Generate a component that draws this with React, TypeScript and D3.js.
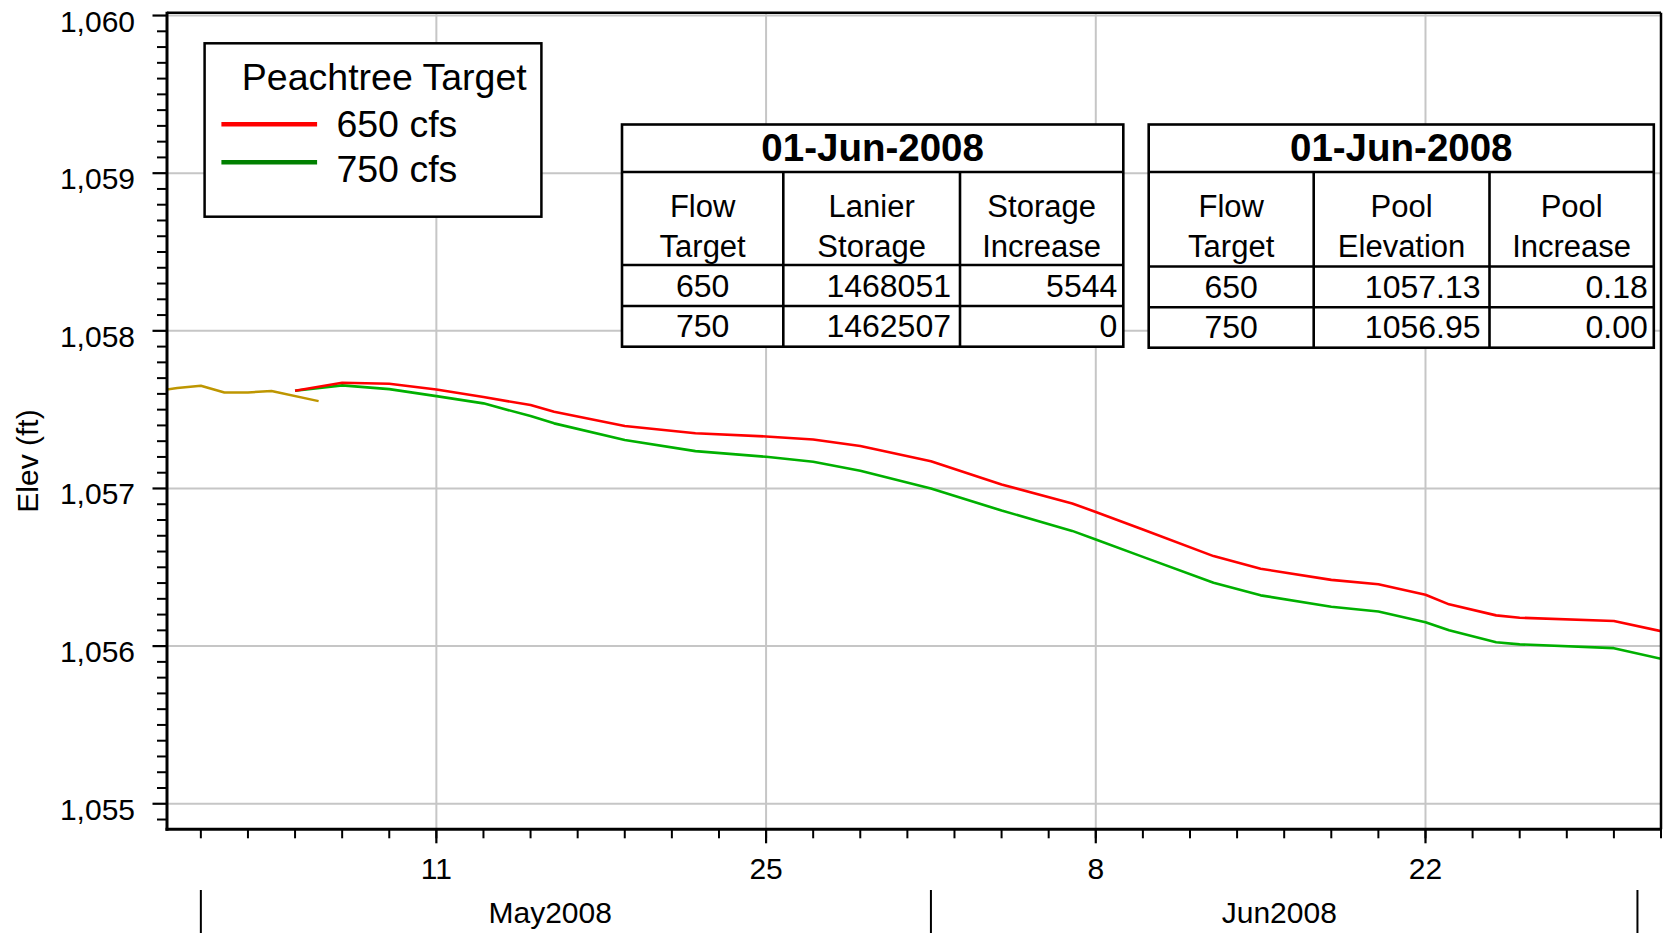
import React from "react";
import * as d3 from "d3";

const W = 1663;
const H = 933;
const FONT = "'Liberation Sans', Arial, Helvetica, sans-serif";

// ---------- data ----------
const observedDates = ["2008-04-29", "2008-04-30", "2008-05-01", "2008-05-02", "2008-05-03", "2008-05-04", "2008-05-06"];
const observedElev = [1057.615, 1057.638, 1057.652, 1057.609, 1057.609, 1057.618, 1057.554];

const simDates = [
  "2008-05-05", "2008-05-07", "2008-05-09", "2008-05-11", "2008-05-13", "2008-05-15", "2008-05-16",
  "2008-05-19", "2008-05-22", "2008-05-25", "2008-05-27", "2008-05-29", "2008-06-01", "2008-06-04",
  "2008-06-07", "2008-06-08", "2008-06-10", "2008-06-13", "2008-06-15", "2008-06-18", "2008-06-20",
  "2008-06-22", "2008-06-23", "2008-06-25", "2008-06-26", "2008-06-30", "2008-07-02",
];
const elev650 = [
  1057.62, 1057.671, 1057.664, 1057.628, 1057.58, 1057.529, 1057.487,
  1057.396, 1057.35, 1057.33, 1057.311, 1057.269, 1057.173, 1057.025,
  1056.905, 1056.851, 1056.74, 1056.571, 1056.491, 1056.42, 1056.392,
  1056.326, 1056.265, 1056.195, 1056.18, 1056.159, 1056.095,
];
const elev750 = [
  1057.62, 1057.654, 1057.63, 1057.586, 1057.54, 1057.459, 1057.413,
  1057.307, 1057.237, 1057.201, 1057.169, 1057.112, 1057.0, 1056.86,
  1056.731, 1056.676, 1056.566, 1056.402, 1056.322, 1056.25, 1056.22,
  1056.152, 1056.1, 1056.025, 1056.011, 1055.987, 1055.92,
];

const yMajorTicks = [1055, 1056, 1057, 1058, 1059, 1060];
const xMajorTickDates = ["2008-05-11", "2008-05-25", "2008-06-08", "2008-06-22"];
const monthStarts = ["2008-05-01", "2008-06-01", "2008-07-01"];
const monthLabels = ["May2008", "Jun2008"];
const monthLabelDates = ["2008-05-15 20:00", "2008-06-15 19:00"];

const legendTitle = "Peachtree Target";
const legendNames = ["650 cfs", "750 cfs"];

const table1Title = "01-Jun-2008";
const table1Headers = [["Flow", "Target"], ["Lanier", "Storage"], ["Storage", "Increase"]];
const table1Rows = [["650", "1468051", "5544"], ["750", "1462507", "0"]];
const table2Title = "01-Jun-2008";
const table2Headers = [["Flow", "Target"], ["Pool", "Elevation"], ["Pool", "Increase"]];
const table2Rows = [["650", "1057.13", "0.18"], ["750", "1056.95", "0.00"]];

// ---------- helpers ----------
const parseDay = d3.timeParse("%Y-%m-%d");
const parseDT = d3.timeParse("%Y-%m-%d %H:%M");

const PL = 167, PR = 1661, PT = 12.7, PB = 829.3;

const x = d3.scaleTime()
  .domain([new Date(2008, 3, 29, 13, 30), new Date(2008, 6, 2)])
  .range([PL, PR]);
const y = d3.scaleLinear().domain([1054.838, 1060.018]).range([PB, PT]);

type Pt = { d: Date; v: number };
const line = d3.line<Pt>().x((p) => x(p.d)).y((p) => y(p.v));
const mk = (ds: string[], vs: number[]): Pt[] => ds.map((s, i) => ({ d: parseDay(s)!, v: vs[i] }));

const obsPts = mk(observedDates, observedElev);
const pts650 = mk(simDates, elev650);
const pts750 = mk(simDates, elev750);

const yMinor = y.ticks(50).filter((t) => !yMajorTicks.some((m) => Math.abs(m - t) < 1e-6));
const xMinor = d3.timeDay
  .range(new Date(2008, 4, 1), new Date(2008, 6, 3))
  .filter((_, i) => i % 2 === 0);
const xMajor = xMajorTickDates.map((s) => parseDay(s)!);
const fmtDay = d3.timeFormat("%-d");

type TableProps = {
  xs: number[];
  ys: number[];
  title: string;
  headers: string[][];
  rows: string[][];
};

function Table({ xs, ys, title, headers, rows }: TableProps) {
  const sw = 2.6;
  return (
    <g>
      <rect x={xs[0]} y={ys[0]} width={xs[3] - xs[0]} height={ys[4] - ys[0]} fill="#fff" stroke="#000" strokeWidth={sw} />
      {[ys[1], ys[2], ys[3]].map((yy, i) => (
        <line key={"h" + i} x1={xs[0]} x2={xs[3]} y1={yy} y2={yy} stroke="#000" strokeWidth={sw} />
      ))}
      {[xs[1], xs[2]].map((xx, i) => (
        <line key={"v" + i} x1={xx} x2={xx} y1={ys[1]} y2={ys[4]} stroke="#000" strokeWidth={sw} />
      ))}
      <text x={(xs[0] + xs[3]) / 2} y={ys[0] + 36} textAnchor="middle" fontSize={38.5} fontWeight="bold" fontFamily={FONT}>
        {title}
      </text>
      {headers.map((h, c) => (
        <g key={"hd" + c}>
          <text x={(xs[c] + xs[c + 1]) / 2} y={ys[1] + 44.5} textAnchor="middle" fontSize={31} fontFamily={FONT}>{h[0]}</text>
          <text x={(xs[c] + xs[c + 1]) / 2} y={ys[1] + 85} textAnchor="middle" fontSize={31} fontFamily={FONT}>{h[1]}</text>
        </g>
      ))}
      {rows.map((r, ri) => (
        <g key={"r" + ri}>
          <text x={(xs[0] + xs[1]) / 2} y={ys[ri + 3] - 9.5} textAnchor="middle" fontSize={32} fontFamily={FONT}>{r[0]}</text>
          <text x={xs[2] - 9} y={ys[ri + 3] - 9.5} textAnchor="end" fontSize={32} fontFamily={FONT}>{r[1]}</text>
          <text x={xs[3] - 6} y={ys[ri + 3] - 9.5} textAnchor="end" fontSize={32} fontFamily={FONT}>{r[2]}</text>
        </g>
      ))}
    </g>
  );
}

export default function App() {
  return (
    <svg
      width={W}
      height={H}
      viewBox={`0 0 ${W} ${H}`}
      style={{ position: "absolute", left: 0, top: 0, background: "#fff" }}
      fontFamily={FONT}
    >
      <defs>
        <clipPath id="plotClip">
          <rect x={PL} y={PT} width={PR - PL} height={PB - PT} />
        </clipPath>
      </defs>
      <rect x={0} y={0} width={W} height={H} fill="#fff" />

      {/* grid */}
      {yMajorTicks.map((t) => (
        <line key={"gy" + t} x1={PL} x2={PR} y1={y(t)} y2={y(t)} stroke="#c6c6c6" strokeWidth={2} />
      ))}
      {xMajor.map((d, i) => (
        <line key={"gx" + i} x1={x(d)} x2={x(d)} y1={PT} y2={PB} stroke="#c6c6c6" strokeWidth={2} />
      ))}

      {/* series */}
      <g clipPath="url(#plotClip)" fill="none" strokeLinejoin="round">
        <path d={line(obsPts) || ""} stroke="#BE9600" strokeWidth={2.5} />
        <path d={line(pts750) || ""} stroke="#00B000" strokeWidth={2.6} />
        <path d={line(pts650) || ""} stroke="#FF0000" strokeWidth={2.6} />
      </g>

      {/* frame */}
      <line x1={PL} x2={PR} y1={PT} y2={PT} stroke="#000" strokeWidth={2.5} />
      <line x1={PR} x2={PR} y1={PT} y2={PB} stroke="#000" strokeWidth={2.5} />
      <line x1={PL} x2={PL} y1={PT - 1} y2={PB + 1.5} stroke="#000" strokeWidth={3} />
      <line x1={PL - 1.5} x2={PR + 1} y1={PB} y2={PB} stroke="#000" strokeWidth={3} />

      {/* y ticks */}
      {yMinor.map((t, i) => (
        <line key={"ym" + i} x1={PL - 10} x2={PL} y1={y(t)} y2={y(t)} stroke="#000" strokeWidth={2} />
      ))}
      {yMajorTicks.map((t) => (
        <g key={"yt" + t}>
          <line x1={PL - 14.5} x2={PL} y1={y(t)} y2={y(t)} stroke="#000" strokeWidth={2.2} />
          <text x={135} y={y(t) + 16} textAnchor="end" fontSize={30}>
            {d3.format(",")(t)}
          </text>
        </g>
      ))}
      <text transform={`translate(37.5,461) rotate(-90)`} textAnchor="middle" fontSize={30}>
        Elev (ft)
      </text>

      {/* x ticks */}
      {xMinor.map((d, i) => (
        <line key={"xm" + i} x1={x(d)} x2={x(d)} y1={PB} y2={PB + 9} stroke="#000" strokeWidth={2} />
      ))}
      {xMajor.map((d, i) => (
        <g key={"xt" + i}>
          <line x1={x(d)} x2={x(d)} y1={PB} y2={PB + 14} stroke="#000" strokeWidth={2.2} />
          <text x={x(d)} y={879.3} textAnchor="middle" fontSize={30}>
            {fmtDay(d)}
          </text>
        </g>
      ))}
      {monthStarts.map((s, i) => {
        const xx = x(parseDay(s)!);
        return <line key={"ms" + i} x1={xx} x2={xx} y1={890} y2={933} stroke="#000" strokeWidth={2} />;
      })}
      {monthLabels.map((m, i) => (
        <text key={"ml" + i} x={x(parseDT(monthLabelDates[i])!)} y={923} textAnchor="middle" fontSize={30}>
          {m}
        </text>
      ))}

      {/* legend */}
      <rect x={204.6} y={43.3} width={336.8} height={173.4} fill="#fff" stroke="#000" strokeWidth={2.5} />
      <text x={241.8} y={90} fontSize={37.5}>{legendTitle}</text>
      <line x1={221.4} x2={317.1} y1={124.3} y2={124.3} stroke="#FF0000" strokeWidth={4.5} />
      <line x1={221.4} x2={317.1} y1={162.3} y2={162.3} stroke="#008000" strokeWidth={4.5} />
      <text x={336.4} y={137.3} fontSize={37.5}>{legendNames[0]}</text>
      <text x={336.4} y={181.7} fontSize={37.5}>{legendNames[1]}</text>

      {/* tables */}
      <Table xs={[622, 783.3, 960, 1123.3]} ys={[124.5, 172, 265, 306, 346.7]} title={table1Title} headers={table1Headers} rows={table1Rows} />
      <Table xs={[1148.7, 1313.7, 1489.5, 1653.8]} ys={[124.5, 172, 266.5, 307.3, 347.7]} title={table2Title} headers={table2Headers} rows={table2Rows} />
    </svg>
  );
}
